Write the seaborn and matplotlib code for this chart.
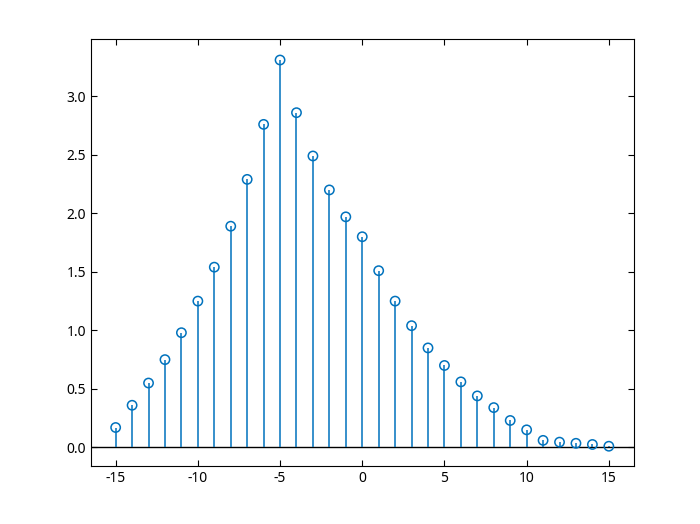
import numpy as np
import matplotlib
matplotlib.use("Agg")
import matplotlib.pyplot as plt
import seaborn as sns

# stem data
n = list(range(-15, 16))
values = [0.17, 0.36, 0.55, 0.75, 0.98, 1.25, 1.54, 1.89, 2.29, 2.76, 3.31,
          2.86, 2.49, 2.20, 1.97, 1.80, 1.51, 1.25, 1.04, 0.85, 0.70, 0.56,
          0.44, 0.34, 0.23, 0.15, 0.06, 0.045, 0.035, 0.025, 0.01]
x_ticks = [-15, -10, -5, 0, 5, 10, 15]
y_ticks = [0.0, 0.5, 1.0, 1.5, 2.0, 2.5, 3.0]

sns.set_style("ticks")
plt.rcParams["font.family"] = ["Noto Sans", "DejaVu Sans"]

color = "#0072BD"

fig = plt.figure(figsize=(7, 5.24), dpi=100)
ax = fig.add_axes([0.13, 0.11, 0.775, 0.815])

ax.vlines(n, 0, values, color=color, linewidth=1.1, zorder=2)
sns.scatterplot(x=n, y=values, ax=ax, marker="o", s=45,
                facecolors="none", edgecolor=color, linewidth=1.1, zorder=3)
ax.axhline(0, color="black", linewidth=1.0, zorder=1)

ax.set_xlim(-16.5, 16.5)
ax.set_ylim(-0.162, 3.487)
ax.set_xticks(x_ticks)
ax.set_xticklabels([str(t) for t in x_ticks])
ax.set_yticks(y_ticks)
ax.set_yticklabels([f"{t:.1f}" for t in y_ticks])

ax.tick_params(direction="in", length=4, width=0.8, top=True, right=True,
               labelsize=10, colors="black")
for sp in ax.spines.values():
    sp.set_visible(True)
    sp.set_linewidth(0.8)
    sp.set_color("black")

fig.savefig("out.png", dpi=100)
